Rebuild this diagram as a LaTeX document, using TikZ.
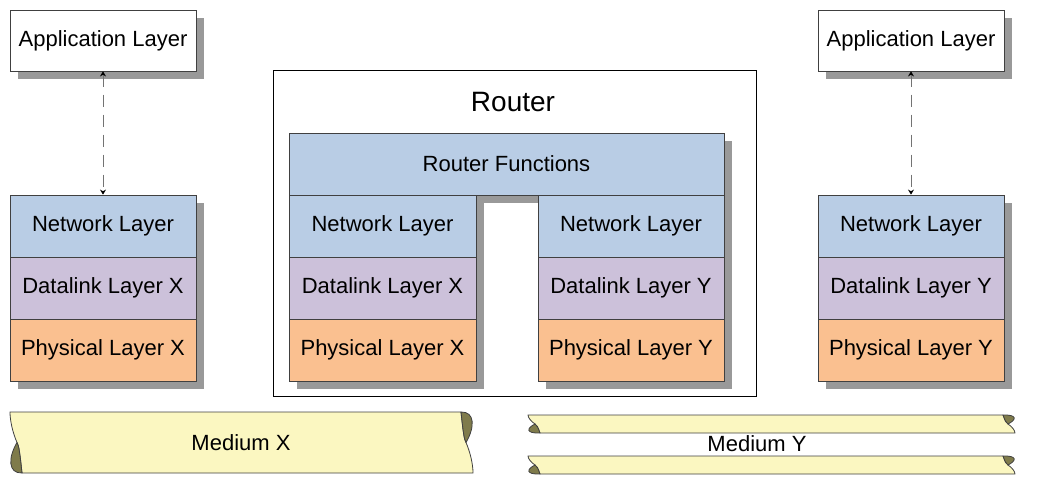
\documentclass[tikz,border=0pt]{standalone}
\usepackage{fontspec}
\setmainfont{Liberation Sans}
\usetikzlibrary{arrows.meta,shadows}
\definecolor{netblue}{HTML}{B9CDE5}
\definecolor{linklilac}{HTML}{CCC1DA}
\definecolor{physorange}{HTML}{FAC090}
\definecolor{mediumyellow}{HTML}{FBF7C1}
\definecolor{curlolive}{HTML}{7F7B4B}
\definecolor{shadowgray}{HTML}{999999}
\definecolor{edgegray}{HTML}{404040}
\newcommand{\drawmedium}[4]{%
 \filldraw[ribbon] (#1,#2) -- ({#3-12},#2) .. controls ({#3-10},{#2+0.3*(#4-#2)}) and ({#3-9},{#2+0.45*(#4-#2)}) .. ({#3-7},{#2+0.5*(#4-#2)}) .. controls ({#3-3},{#2+0.65*(#4-#2)}) and (#3,{#2+0.85*(#4-#2)}) .. (#3,#4)
  -- ({#1+12},#4) .. controls ({#1+10},{#4-0.3*(#4-#2)}) and ({#1+9},{#4-0.45*(#4-#2)}) .. ({#1+7},{#4-0.5*(#4-#2)}) .. controls ({#1+3},{#4-0.65*(#4-#2)}) and (#1,{#4-0.85*(#4-#2)}) .. (#1,#2) -- cycle;
 \filldraw[curl] ({#3-12},#2) .. controls ({#3+2},{#2-0.5}) and ({#3+2},{#2+0.25*(#4-#2)}) .. ({#3-7},{#2+0.5*(#4-#2)}) .. controls ({#3-9},{#2+0.45*(#4-#2)}) and ({#3-10},{#2+0.3*(#4-#2)}) .. ({#3-12},#2) -- cycle;
 \filldraw[curl] ({#1+12},#4) .. controls ({#1-2},{#4+0.5}) and ({#1-2},{#4-0.25*(#4-#2)}) .. ({#1+7},{#4-0.5*(#4-#2)}) .. controls ({#1+9},{#4-0.45*(#4-#2)}) and ({#1+10},{#4-0.3*(#4-#2)}) .. ({#1+12},#4) -- cycle;}
\begin{document}
\begin{tikzpicture}[x=1pt,y=-1pt,
 layer/.style={draw=edgegray,line width=0.8pt,minimum width=186pt,minimum height=62pt,inner sep=0pt,font=\fontsize{22}{26}\selectfont,
  drop shadow={shadow xshift=8pt,shadow yshift=-8pt,fill=shadowgray,opacity=1}},
 ribbon/.style={draw=edgegray,line width=0.8pt,fill=mediumyellow,line join=round},
 curl/.style={draw=edgegray,line width=0.8pt,fill=curlolive,line join=round},
 dbl/.style={{Stealth[length=5pt,width=6pt,black]}-{Stealth[length=5pt,width=6pt,black]},line width=0.8pt,draw=gray!90!black,dash pattern=on 12pt off 8pt}]
\useasboundingbox (0,0) rectangle (1040,495);
\node[layer,fill=white,minimum height=61pt] (appL) at (103,40.5) {Application Layer};
\node[layer,fill=netblue] (netL) at (103,226) {Network Layer};
\node[layer,fill=linklilac] (dlL) at (103,288) {Datalink Layer X};
\node[layer,fill=physorange] (phL) at (103,350) {Physical Layer X};
\draw[dbl] (appL.south) -- (netL.north);

\node[draw=black,line width=0.8pt,fill=white,minimum width=483pt,minimum height=326pt] (router) at (514.5,233) {};
\node[font=\fontsize{28}{32}\selectfont] (routerT) at (513,102) {Router};
\node[layer,fill=netblue,minimum width=435pt] (rfun) at (506.5,164) {Router Functions};
\node[layer,fill=netblue,minimum width=187pt] (netRX) at (382.5,226) {Network Layer};
\node[layer,fill=linklilac,minimum width=187pt] (dlRX) at (382.5,288) {Datalink Layer X};
\node[layer,fill=physorange,minimum width=187pt] (phRX) at (382.5,350) {Physical Layer X};
\node[layer,fill=netblue] (netRY) at (631,226) {Network Layer};
\node[layer,fill=linklilac] (dlRY) at (631,288) {Datalink Layer Y};
\node[layer,fill=physorange] (phRY) at (631,350) {Physical Layer Y};

\node[layer,fill=white,minimum height=61pt] (appR) at (911,40.5) {Application Layer};
\node[layer,fill=netblue] (netR) at (911,226) {Network Layer};
\node[layer,fill=linklilac] (dlR) at (911,288) {Datalink Layer Y};
\node[layer,fill=physorange] (phR) at (911,350) {Physical Layer Y};
\draw[dbl] (appR.south) -- (netR.north);

\drawmedium{10}{412}{473}{473}
\drawmedium{528}{415}{1015}{433}
\drawmedium{528}{456}{1015}{474}
\node[font=\fontsize{22}{26}\selectfont] (medX) at (241,443) {Medium X};
\node[font=\fontsize{22}{26}\selectfont] (medY) at (757,444) {Medium Y};
\end{tikzpicture}
\end{document}
